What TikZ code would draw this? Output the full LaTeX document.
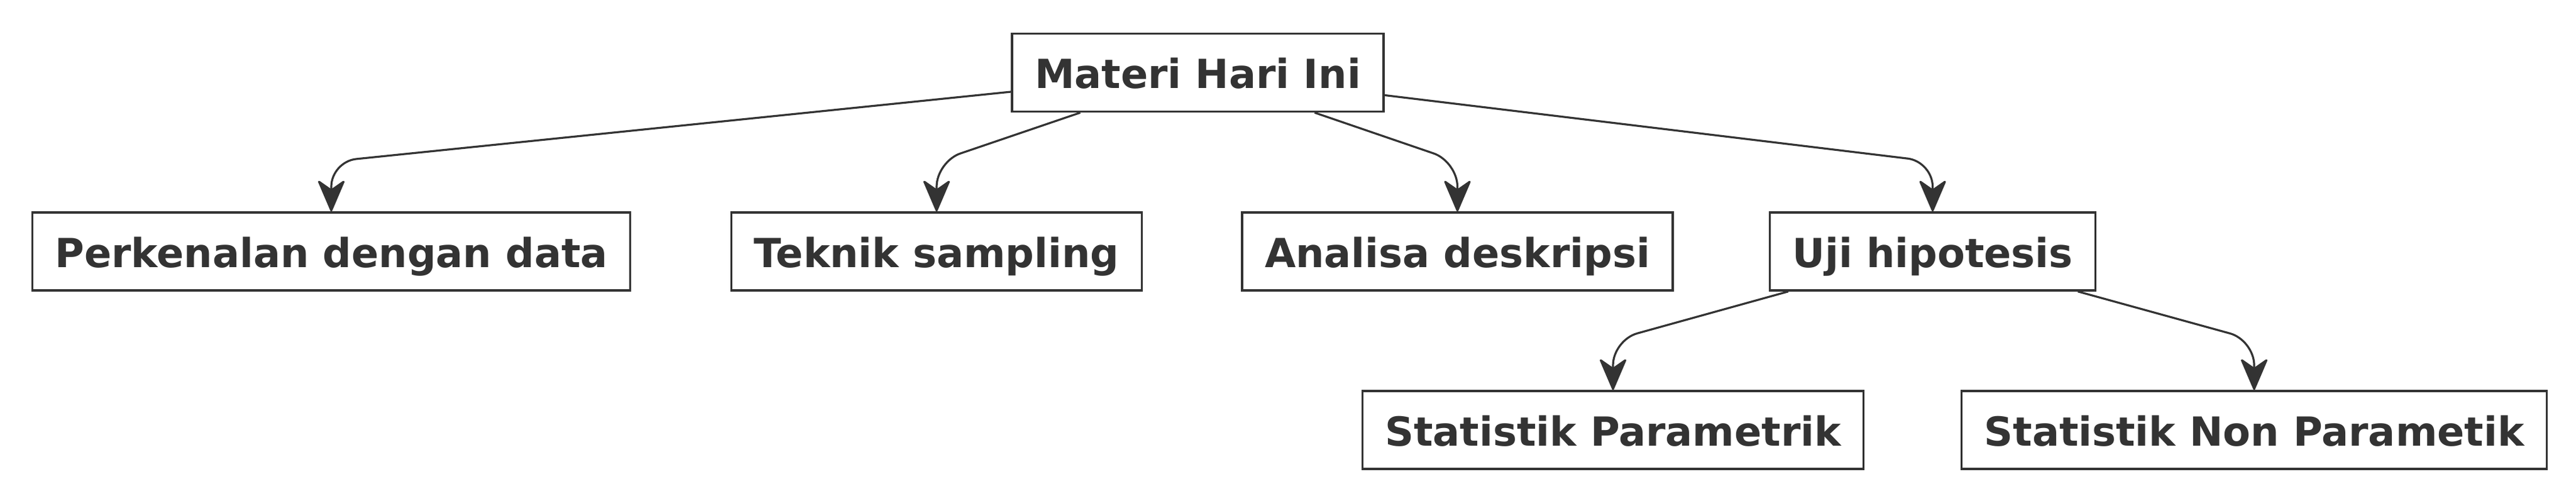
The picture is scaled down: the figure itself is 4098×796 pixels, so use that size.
\documentclass[tikz,border=0pt]{standalone}
\usepackage{fontspec}
\setmainfont{DejaVu Sans}
\usetikzlibrary{arrows.meta}
\definecolor{ink}{HTML}{333333}
\tikzset{
  box/.style={draw=ink, line width=0.85pt, fill=white, text=ink, minimum height=31pt,
    inner xsep=9pt, text height=12.5pt, text depth=0pt,
    font=\fontsize{15.95pt}{19pt}\selectfont\bfseries},
  arr/.style={draw=ink, line width=0.8pt, rounded corners=10pt,
    -{Stealth[length=13.5pt, width=11.5pt, inset=4pt, round]}}
}
\begin{document}
\begin{tikzpicture}[x=0.25pt,y=-0.25pt]
\useasboundingbox (0,0) rectangle (4098,796);
\node[box] (materi) at (1905.5,115.5) {Materi Hari Ini};
\node[box] (kenal) at (527,400) {Perkenalan dengan data};
\node[box] (teknik) at (1490,400) {Teknik sampling};
\node[box] (analisa) at (2318.5,400) {Analisa deskripsi};
\node[box] (uji) at (3074.5,400) {Uji hipotesis};
\node[box] (param) at (2566,684) {Statistik Parametrik};
\node[box] (nonparam) at (3586,684) {Statistik Non Parametik};
% bend heights
\coordinate (row1) at (0,257);
\coordinate (row2) at (0,541);
\draw[arr] (materi) -- (kenal |- row1) -- (kenal);
\draw[arr] (materi) -- (teknik |- row1) -- (teknik);
\draw[arr] (materi) -- (analisa |- row1) -- (analisa);
\draw[arr] (materi) -- (uji |- row1) -- (uji);
\draw[arr] (uji) -- (param |- row2) -- (param);
\draw[arr] (uji) -- (nonparam |- row2) -- (nonparam);
\end{tikzpicture}
\end{document}
